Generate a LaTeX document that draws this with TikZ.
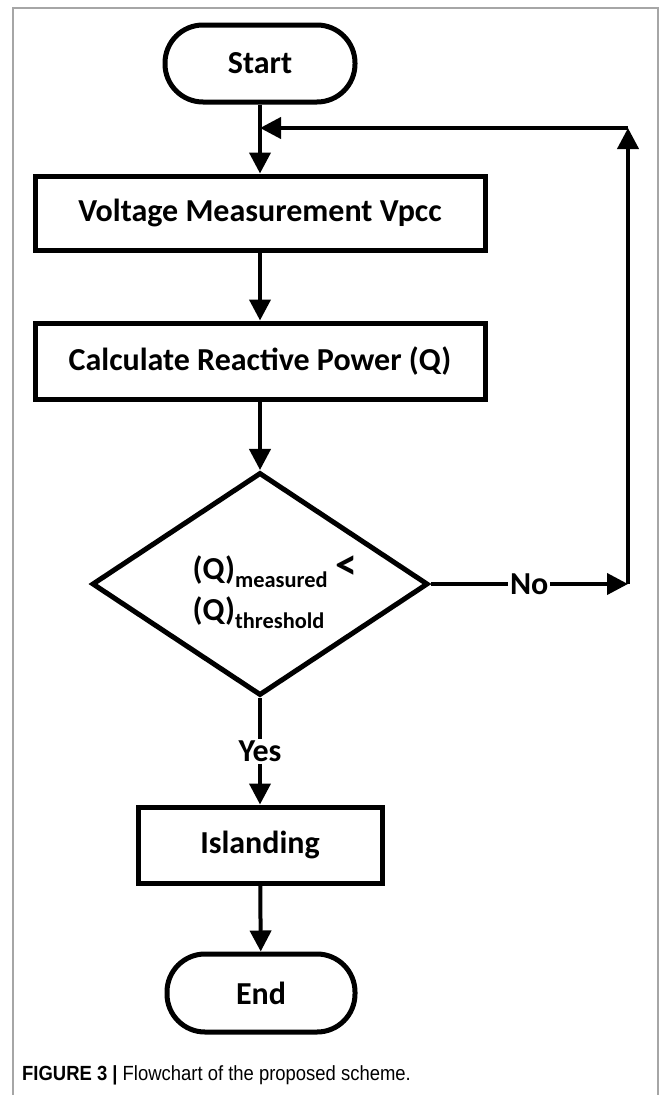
\documentclass[tikz,border=0pt]{standalone}
\usepackage{fontspec}
\setmainfont{Carlito}
\newfontfamily\capfont[FakeStretch=0.9]{Liberation Sans}
\usetikzlibrary{shapes.geometric,arrows.meta}

\tikzset{
  flowline/.style={line width=4pt},
  flowarrow/.style={flowline, -{Triangle[length=21pt,width=21pt]}},
  termbox/.style={draw, line width=5pt, rounded corners=38pt, minimum width=190pt,
    minimum height=77pt, font=\fontsize{32}{38}\selectfont\bfseries},
  procbox/.style={draw, line width=5pt, minimum height=75pt, inner sep=0pt,
    font=\fontsize{32}{38}\selectfont\bfseries},
  decbox/.style={draw, diamond, line width=5pt, aspect=1.51, minimum width=336pt,
    minimum height=223pt, inner sep=0pt, align=left,
    font=\fontsize{32}{39}\selectfont\bfseries},
  edgelabel/.style={fill=white, inner sep=2pt, font=\fontsize{32}{38}\selectfont\bfseries}
}

\begin{document}
\begin{tikzpicture}[x=1pt, y=-1pt]

    % Fix the page to the size of the figure
    \useasboundingbox (0,0) rectangle (663,1095);

    % Thin grey frame round the figure
    \draw[gray!70, line width=1.5pt] (13,1095) -- (13,8) -- (658,8) -- (658,1095);

    % Place the steps of the flowchart
    \node[termbox] (start) at (260,63.5) {Start};
    \node[procbox, minimum width=450pt, minimum height=74pt] (volt) at (260,213) {Voltage Measurement Vpcc};
    \node[procbox, minimum width=450pt, minimum height=76pt] (calc) at (260,361) {Calculate Reactive Power (Q)};
    \node[decbox] (cond) at (260,584) {\rule{0pt}{40pt}\hspace*{30pt}(Q)\textsubscript{measured} {\fontsize{44}{39}\selectfont<}\\[2pt]\hspace*{30pt}(Q)\textsubscript{threshold}};
    \node[procbox, minimum width=244pt, minimum height=76pt] (island) at (260,845) {Islanding};
    \node[termbox, minimum width=188pt, minimum height=78pt] (stop) at (261,993) {End};

    % Corners of the feedback loop
    \coordinate (noend) at (628,584);
    \coordinate (loop) at (628,128);
    \coordinate (join) at (start.south |- loop);

    % Main path downwards
    \draw[flowarrow] (start) -- (volt);
    \draw[flowarrow] (volt) -- (calc);
    \draw[flowarrow] (calc) -- (cond);
    \draw[flowarrow] (cond.south) -- node[edgelabel] (yes) {Yes} (island.north);
    \draw[flowarrow] (island) -- (stop);

    % The No branch goes back to the top
    \draw[flowarrow] (cond.east) -- node[edgelabel, pos=0.5] (no) {No} (noend);
    \draw[flowarrow] (noend) -- (loop);
    \draw[flowarrow] (loop) -- (join);

    % Caption under the chart
    \node[anchor=base west, inner sep=0pt, font=\capfont\fontsize{20.5}{24}\selectfont] (cap) at (22,1080)
      {\textbf{FIGURE 3} \textbf{|} Flowchart of the proposed scheme.};

\end{tikzpicture}
\end{document}
